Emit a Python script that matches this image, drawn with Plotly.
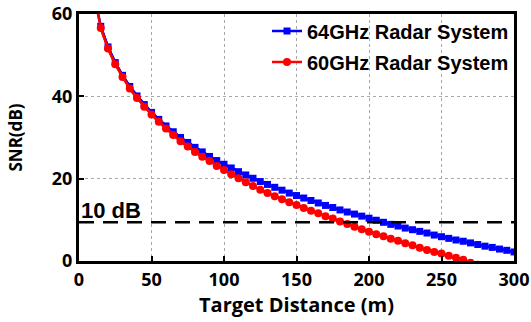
import plotly.graph_objects as go

distance = [15, 20, 25, 30, 35, 40, 45, 50, 55, 60, 65, 70, 75, 80, 85, 90, 95, 100,
            105, 110, 115, 120, 125, 130, 135, 140, 145, 150, 155, 160, 165, 170, 175,
            180, 185, 190, 195, 200, 205, 210, 215, 220, 225, 230, 235, 240, 245, 250,
            255, 260, 265, 270, 275, 280, 285, 290, 295, 300]

snr_64ghz = [57.0, 52.0, 48.2, 45.1, 42.4, 40.1, 38.0, 36.1, 34.4, 32.8, 31.4, 30.0,
             28.8, 27.6, 26.5, 25.4, 24.4, 23.5, 22.6, 21.7, 20.9, 20.1, 19.3, 18.6,
             17.9, 17.2, 16.5, 15.9, 15.3, 14.7, 14.1, 13.5, 13.0, 12.4, 11.9, 11.4,
             10.9, 10.4, 9.9, 9.4, 8.9, 8.5, 8.0, 7.6, 7.2, 6.8, 6.3, 5.9, 5.5, 5.1,
             4.8, 4.4, 4.0, 3.6, 3.3, 2.9, 2.6, 2.2]

snr_60ghz = [56.6, 51.6, 47.8, 44.7, 41.9, 39.6, 37.5, 35.6, 33.8, 32.2, 30.6, 29.1,
             27.8, 26.5, 25.3, 24.3, 23.1, 22.1, 21.1, 20.1, 19.1, 18.2, 17.3, 16.5,
             15.7, 15.0, 14.3, 13.6, 12.9, 12.2, 11.6, 10.9, 10.3, 9.6, 9.0, 8.3,
             7.7, 7.1, 6.5, 6.0, 5.4, 4.9, 4.3, 3.8, 3.2, 2.7, 2.2, 1.8, 1.3, 0.8,
             0.3, -0.4, -0.9, -1.4, -1.9, -2.4, -2.9, -3.4]

# line start (curve enters the frame at the top)
line_start_x = [13]
line_start_64 = [60.5]
line_start_60 = [60.2]

threshold_db = 9.4
threshold_label = "10 dB"

x_ticks = [0, 50, 100, 150, 200, 250, 300]
y_ticks = [0, 20, 40, 60]

fig = go.Figure()

fig.add_trace(go.Scatter(
    x=line_start_x + distance, y=line_start_64 + snr_64ghz,
    mode="lines", line=dict(color="#0000ff", width=2.5),
    showlegend=False, hoverinfo="skip"))
fig.add_trace(go.Scatter(
    x=distance, y=snr_64ghz, mode="lines+markers",
    name="<b>64GHz Radar System</b>", legendgroup="a",
    line=dict(color="#0000ff", width=2.5),
    marker=dict(symbol="square", size=7, color="#0000ff")))

fig.add_trace(go.Scatter(
    x=line_start_x + distance, y=line_start_60 + snr_60ghz,
    mode="lines", line=dict(color="#ff0000", width=2.5),
    showlegend=False, hoverinfo="skip"))
fig.add_trace(go.Scatter(
    x=distance, y=snr_60ghz, mode="lines+markers",
    name="<b>60GHz Radar System</b>", legendgroup="b",
    line=dict(color="#ff0000", width=2.5),
    marker=dict(symbol="circle", size=8, color="#ff0000")))

fig.add_hline(y=threshold_db, line=dict(color="black", width=2.5, dash="15px,9px"),
              layer="above")

fig.add_annotation(x=0, y=threshold_db, xref="x", yref="y",
                   text="<b>" + threshold_label + "</b>",
                   showarrow=False, xanchor="left", yanchor="bottom", xshift=0, yshift=-3,
                   font=dict(family="Liberation Sans, Arial", size=22, color="black"))

axis_common = dict(
    showline=True, linewidth=3, linecolor="black", mirror=True,
    ticks="inside", ticklen=5, tickwidth=1.5, tickcolor="black",
    showgrid=True, gridcolor="#a8a8a8", gridwidth=1, griddash="dot",
    zeroline=False, automargin=False,
    tickfont=dict(family="Open Sans", size=18, color="black"),
)

fig.update_xaxes(range=[0, 300], tickvals=x_ticks,
                 ticktext=["<b>%d</b>" % v for v in x_ticks], **axis_common,
                 title=dict(text="<b>Target Distance (m)</b>", standoff=2,
                            font=dict(family="Open Sans", size=20, color="black")))
fig.update_yaxes(range=[0, 60], tickvals=y_ticks,
                 ticktext=["<b>%d</b>" % v for v in y_ticks], **axis_common,
                 title=dict(text="<b>SNR(dB)</b>", standoff=25,
                            font=dict(family="Open Sans", size=17, color="black")))

fig.update_layout(
    width=531, height=322,
    margin=dict(l=79, r=17, t=14, b=61),
    plot_bgcolor="white", paper_bgcolor="white",
    showlegend=True,
    legend=dict(x=1, y=1.01, xanchor="right", yanchor="top",
                bgcolor="rgba(0,0,0,0)", tracegroupgap=2,
                font=dict(family="Liberation Sans, Arial", size=20, color="black"),
                itemwidth=30),
)

fig.write_html("out.html")
